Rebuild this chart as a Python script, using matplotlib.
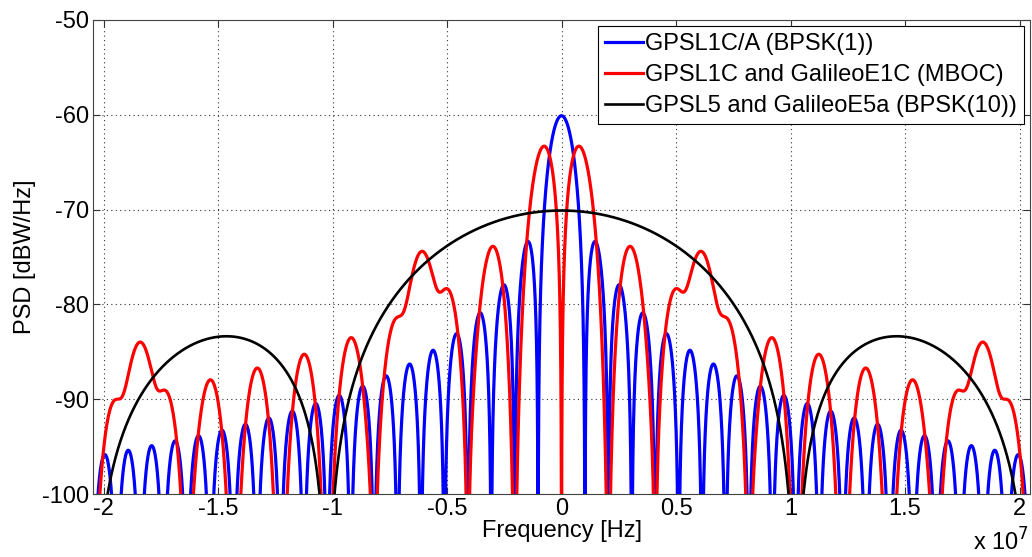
import numpy as np
import matplotlib.pyplot as plt
from matplotlib.ticker import FuncFormatter

# signal parameters (Hz)
bpsk1_chip_rate = 1.023e6          # GPS L1 C/A
bpsk10_chip_rate = 10.23e6         # GPS L5 / Galileo E5a
mboc_chip_rate = 1.023e6
mboc_subcarriers = [1.023e6, 6.138e6]   # BOC(1,1), BOC(6,1)
mboc_weights = [10 / 11, 1 / 11]
freq_span = 20.46e6

series_labels = ["GPSL1C/A (BPSK(1))",
                 "GPSL1C and GalileoE1C (MBOC)",
                 "GPSL5 and GalileoE5a (BPSK(10))"]
series_colors = ["#0000ff", "#ff0000", "#000000"]

x_ticks = [-2, -1.5, -1, -0.5, 0, 0.5, 1, 1.5, 2]
y_ticks = [-100, -90, -80, -70, -60, -50]


def bpsk_psd(f, fc):
    return np.sinc(f / fc) ** 2 / fc


def boc_psd(f, fs, fc):
    with np.errstate(divide="ignore", invalid="ignore"):
        g = np.tan(np.pi * f / (2 * fs)) ** 2 * np.sinc(f / fc) ** 2 / fc
    return np.nan_to_num(g)


f = np.linspace(-freq_span, freq_span, 60000)
psd_l1ca = bpsk_psd(f, bpsk1_chip_rate)
psd_mboc = sum(w * boc_psd(f, fs, mboc_chip_rate)
               for w, fs in zip(mboc_weights, mboc_subcarriers))
psd_l5 = bpsk_psd(f, bpsk10_chip_rate)

with np.errstate(divide="ignore"):
    curves = [10 * np.log10(p) for p in (psd_l1ca, psd_mboc, psd_l5)]

plt.rcParams['font.family'] = ['Liberation Sans', 'DejaVu Sans']
plt.rcParams['axes.unicode_minus'] = False

fig = plt.figure(figsize=(10.32, 5.57), dpi=100)
ax = fig.add_axes([0.0901, 0.1131, 0.908, 0.851])

widths = [2.3, 2.3, 1.9]
for y, c, lab, lw in zip(curves, series_colors, series_labels, widths):
    ax.plot(f, y, color=c, lw=lw, label=lab)

ax.set_xlim(-freq_span, freq_span)
ax.set_ylim(-100, -50)
ax.set_xticks([t * 1e7 for t in x_ticks])
ax.xaxis.set_major_formatter(FuncFormatter(lambda v, p: "%g" % round(v / 1e7, 2)))
ax.set_yticks(y_ticks)
ax.grid(True, linestyle=(0, (1, 3)), color="#333333", lw=0.8)
ax.tick_params(direction="in", top=True, right=True, labelsize=17, length=5,
               color="#333333", pad=3)
for s in ax.spines.values():
    s.set_color("#444444")

ax.set_xlabel("Frequency [Hz]", fontsize=17, labelpad=0)
ax.set_ylabel("PSD [dBW/Hz]", fontsize=17, labelpad=4)
fig.text(0.997, 0.003, r"x 10$^7$", ha="right", va="bottom", fontsize=17)

leg = ax.legend(loc="upper right", fontsize=17, handlelength=1.6,
                handletextpad=0.1, borderaxespad=0.25, borderpad=0.3,
                labelspacing=0.38, fancybox=False, framealpha=1)
leg.get_frame().set_edgecolor("black")
leg.get_frame().set_linewidth(0.8)

fig.savefig("out.png", dpi=100)
